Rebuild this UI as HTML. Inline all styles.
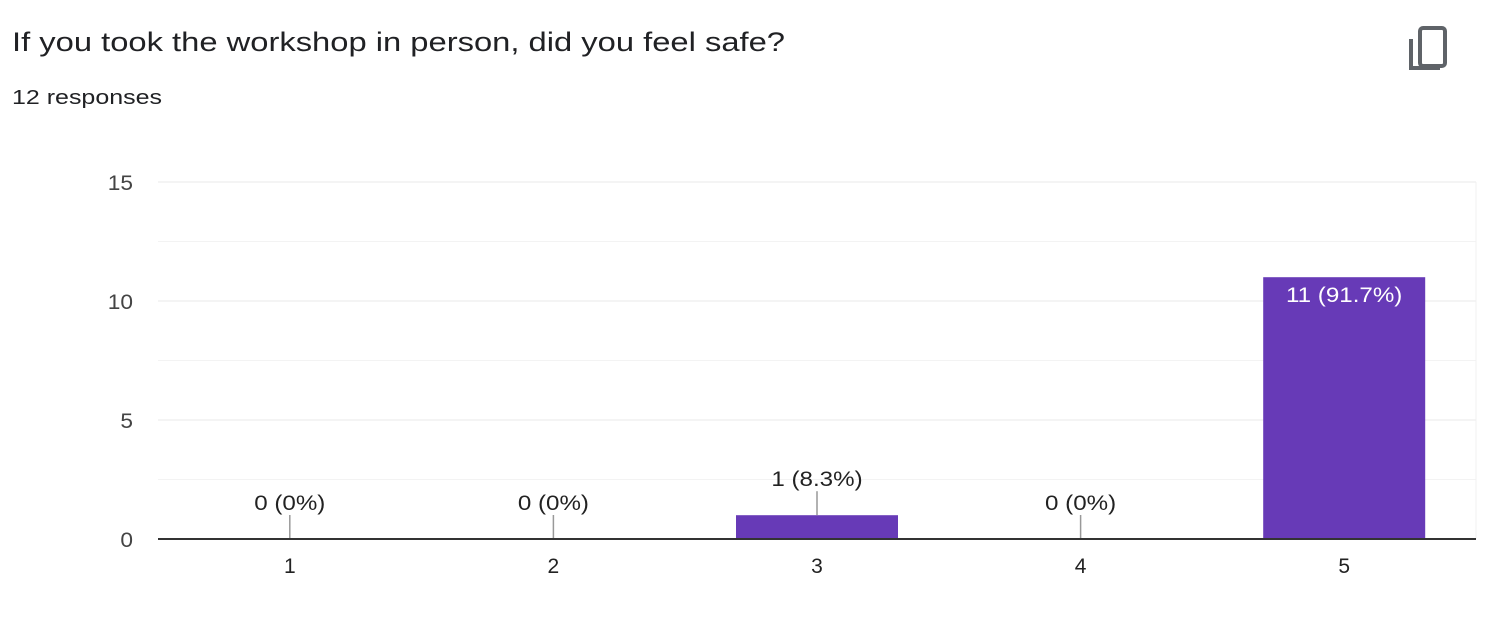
<!DOCTYPE html>
<html><head><meta charset="utf-8"><style>
body{margin:0;background:#fff;width:1492px;height:622px;overflow:hidden;font-family:"Liberation Sans",Arial,sans-serif;}
</style></head><body>
<svg width="1492" height="622" xmlns="http://www.w3.org/2000/svg">
<text x="12" y="51" font-size="27" fill="#202124" textLength="773" lengthAdjust="spacingAndGlyphs">If you took the workshop in person, did you feel safe?</text>
<text x="12" y="104" font-size="20" fill="#202124" textLength="150" lengthAdjust="spacingAndGlyphs">12 responses</text>
<g fill="none" stroke="#5f6368" stroke-width="4">
<path d="M1411 39 V68 H1440"/>
<rect x="1420" y="28" width="25" height="38" rx="3"/>
</g>
<g id="grid"></g><g id="bars"></g><g id="labels"></g>
</svg>
<script>
const categories=["1","2","3","4","5"];
const values=[0,0,1,0,11];
const pctLabels=["0 (0%)","0 (0%)","1 (8.3%)","0 (0%)","11 (91.7%)"];
const yTicks=[0,5,10,15];
const NS="http://www.w3.org/2000/svg";
const x0=158,x1=1476,y0=539,yTop=182,yMax=15;
const y=v=>y0-(y0-yTop)*v/yMax;
const step=(x1-x0)/categories.length;
const xc=i=>x0+step*(i+0.5);
const bw=162;
function mk(tag,attrs,parent,text){const e=document.createElementNS(NS,tag);for(const k in attrs)e.setAttribute(k,attrs[k]);if(text!==undefined)e.textContent=text;document.getElementById(parent).appendChild(e);return e;}
function widen(t,k){const l=t.getComputedTextLength();t.setAttribute('textLength',l*k);t.setAttribute('lengthAdjust','spacingAndGlyphs');}
for(let v=0;v<=yMax;v+=2.5){
 const g=mk('line',{x1:x0,x2:x1,y1:y(v),y2:y(v),stroke:v%5===0?'#e8e8e8':'#f3f3f3','stroke-width':1},'grid');
 
 
}
mk('line',{x1:x1,x2:x1,y1:yTop,y2:y0,stroke:'#f0f0f0'},'grid');
yTicks.forEach(t=>{
 const e=mk('text',{x:133,y:y(t)+8,'font-size':21,fill:'#444','text-anchor':'end'},'labels',String(t));
 
 
 widen(e,1.08);
});
categories.forEach((c,i)=>{
 const cx=xc(i),v=values[i];
 if(v>0){
  const r=mk('rect',{x:cx-bw/2,y:y(v),width:bw,height:y0-y(v),fill:'#673ab7'},'bars');
  
  
 }
 const xl=mk('text',{x:cx,y:573,'font-size':21,fill:'#222','text-anchor':'middle'},'labels',c);
 
 
 const inside=(y0-y(v))>60;
 if(inside){
  const t=mk('text',{x:cx,y:y(v)+25,'font-size':21,fill:'#fff','text-anchor':'middle'},'labels',pctLabels[i]);
  
  
  widen(t,1.15);
 }else{
  const top=y(v);
  const l=mk('line',{x1:cx,x2:cx,y1:top-24,y2:top,stroke:'#999','stroke-width':1.5},'labels');
  
  
  const t=mk('text',{x:cx,y:top-29,'font-size':21,fill:'#222','text-anchor':'middle'},'labels',pctLabels[i]);
  
  
  widen(t,1.15);
 }
});
const ax=mk('line',{x1:x0,x2:x1,y1:y0,y2:y0,stroke:'#333','stroke-width':2},'labels');


</script>
</body></html>
